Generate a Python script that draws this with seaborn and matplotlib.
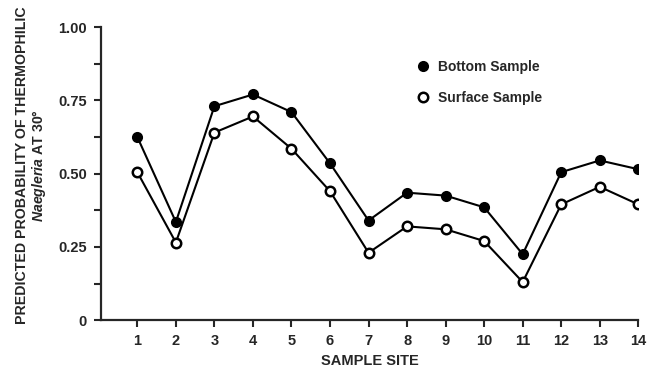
import matplotlib
matplotlib.use("Agg")
import matplotlib.pyplot as plt
import seaborn as sns
import pandas as pd
from matplotlib.lines import Line2D
from matplotlib.ticker import MultipleLocator

sites = list(range(1, 15))
bottom = [0.625, 0.335, 0.73, 0.77, 0.71, 0.535, 0.34, 0.435, 0.425, 0.385, 0.225, 0.505, 0.545, 0.515]
surface = [0.505, 0.265, 0.64, 0.695, 0.585, 0.44, 0.23, 0.32, 0.31, 0.27, 0.13, 0.395, 0.455, 0.395]
y_ticks = [0, 0.25, 0.5, 0.75, 1.0]
y_tick_labels = ["0", "0.25", "0.50", "0.75", "1.00"]

df = pd.DataFrame({"site": sites, "bottom": bottom, "surface": surface})

sns.set_style("ticks")
plt.rcParams["font.family"] = ["Liberation Sans", "DejaVu Sans"]
plt.rcParams["font.weight"] = "bold"
plt.rcParams["mathtext.fontset"] = "custom"
plt.rcParams["mathtext.it"] = "Liberation Sans:italic:bold"
plt.rcParams["mathtext.rm"] = "Liberation Sans:bold"

fig = plt.figure(figsize=(6.54, 3.71), dpi=100)
ax = fig.add_axes([0.154, 0.137, 0.822, 0.790])

# bottom (filled) and surface (open) series
sns.lineplot(data=df, x="site", y="bottom", ax=ax, color="black", lw=1.5,
             marker="o", markersize=6.8, markerfacecolor="black",
             markeredgecolor="black", markeredgewidth=1.2)
sns.lineplot(data=df, x="site", y="surface", ax=ax, color="black", lw=1.5,
             marker="o", markersize=6.8, markerfacecolor="white",
             markeredgecolor="black", markeredgewidth=1.8)

ax.set_xlim(0.05, 14)
ax.set_ylim(0, 1)
ax.set_xticks(sites)
ax.set_yticks(y_ticks)
ax.set_yticklabels(y_tick_labels)
ax.yaxis.set_minor_locator(MultipleLocator(0.125))
ax.tick_params(axis="both", which="major", length=5, width=1.5, labelsize=10.5, pad=5)
ax.tick_params(axis="y", which="minor", length=5, width=1.5)
for lab in ax.get_xticklabels() + ax.get_yticklabels():
    lab.set_fontweight("bold")
for side in ["left", "bottom"]:
    ax.spines[side].set_linewidth(1.6)
sns.despine(ax=ax)

ax.set_xlabel("SAMPLE SITE", fontsize=10.5, fontweight="bold", labelpad=4)
ax.set_ylabel("")

fig.text(0.034, 0.555, "PREDICTED PROBABILITY OF THERMOPHILIC", rotation=90,
         ha="center", va="center", fontsize=10.2, fontweight="bold")
fig.text(0.060, 0.555, r"$\it{Naegleria}$ AT 30°", rotation=90,
         ha="center", va="center", fontsize=10.2, fontweight="bold")

handles = [
    Line2D([], [], ls="none", marker="o", markersize=6.8, markerfacecolor="black",
           markeredgecolor="black", markeredgewidth=1.2),
    Line2D([], [], ls="none", marker="o", markersize=6.8, markerfacecolor="white",
           markeredgecolor="black", markeredgewidth=1.8),
]
ax.legend(handles, ["Bottom Sample", "Surface Sample"], loc="upper left",
          bbox_to_anchor=(0.56, 0.93), frameon=False,
          handlelength=1.2, handletextpad=0.5, labelspacing=1.2,
          prop={"weight": "bold", "size": 10})

fig.savefig("out.png", dpi=100)
